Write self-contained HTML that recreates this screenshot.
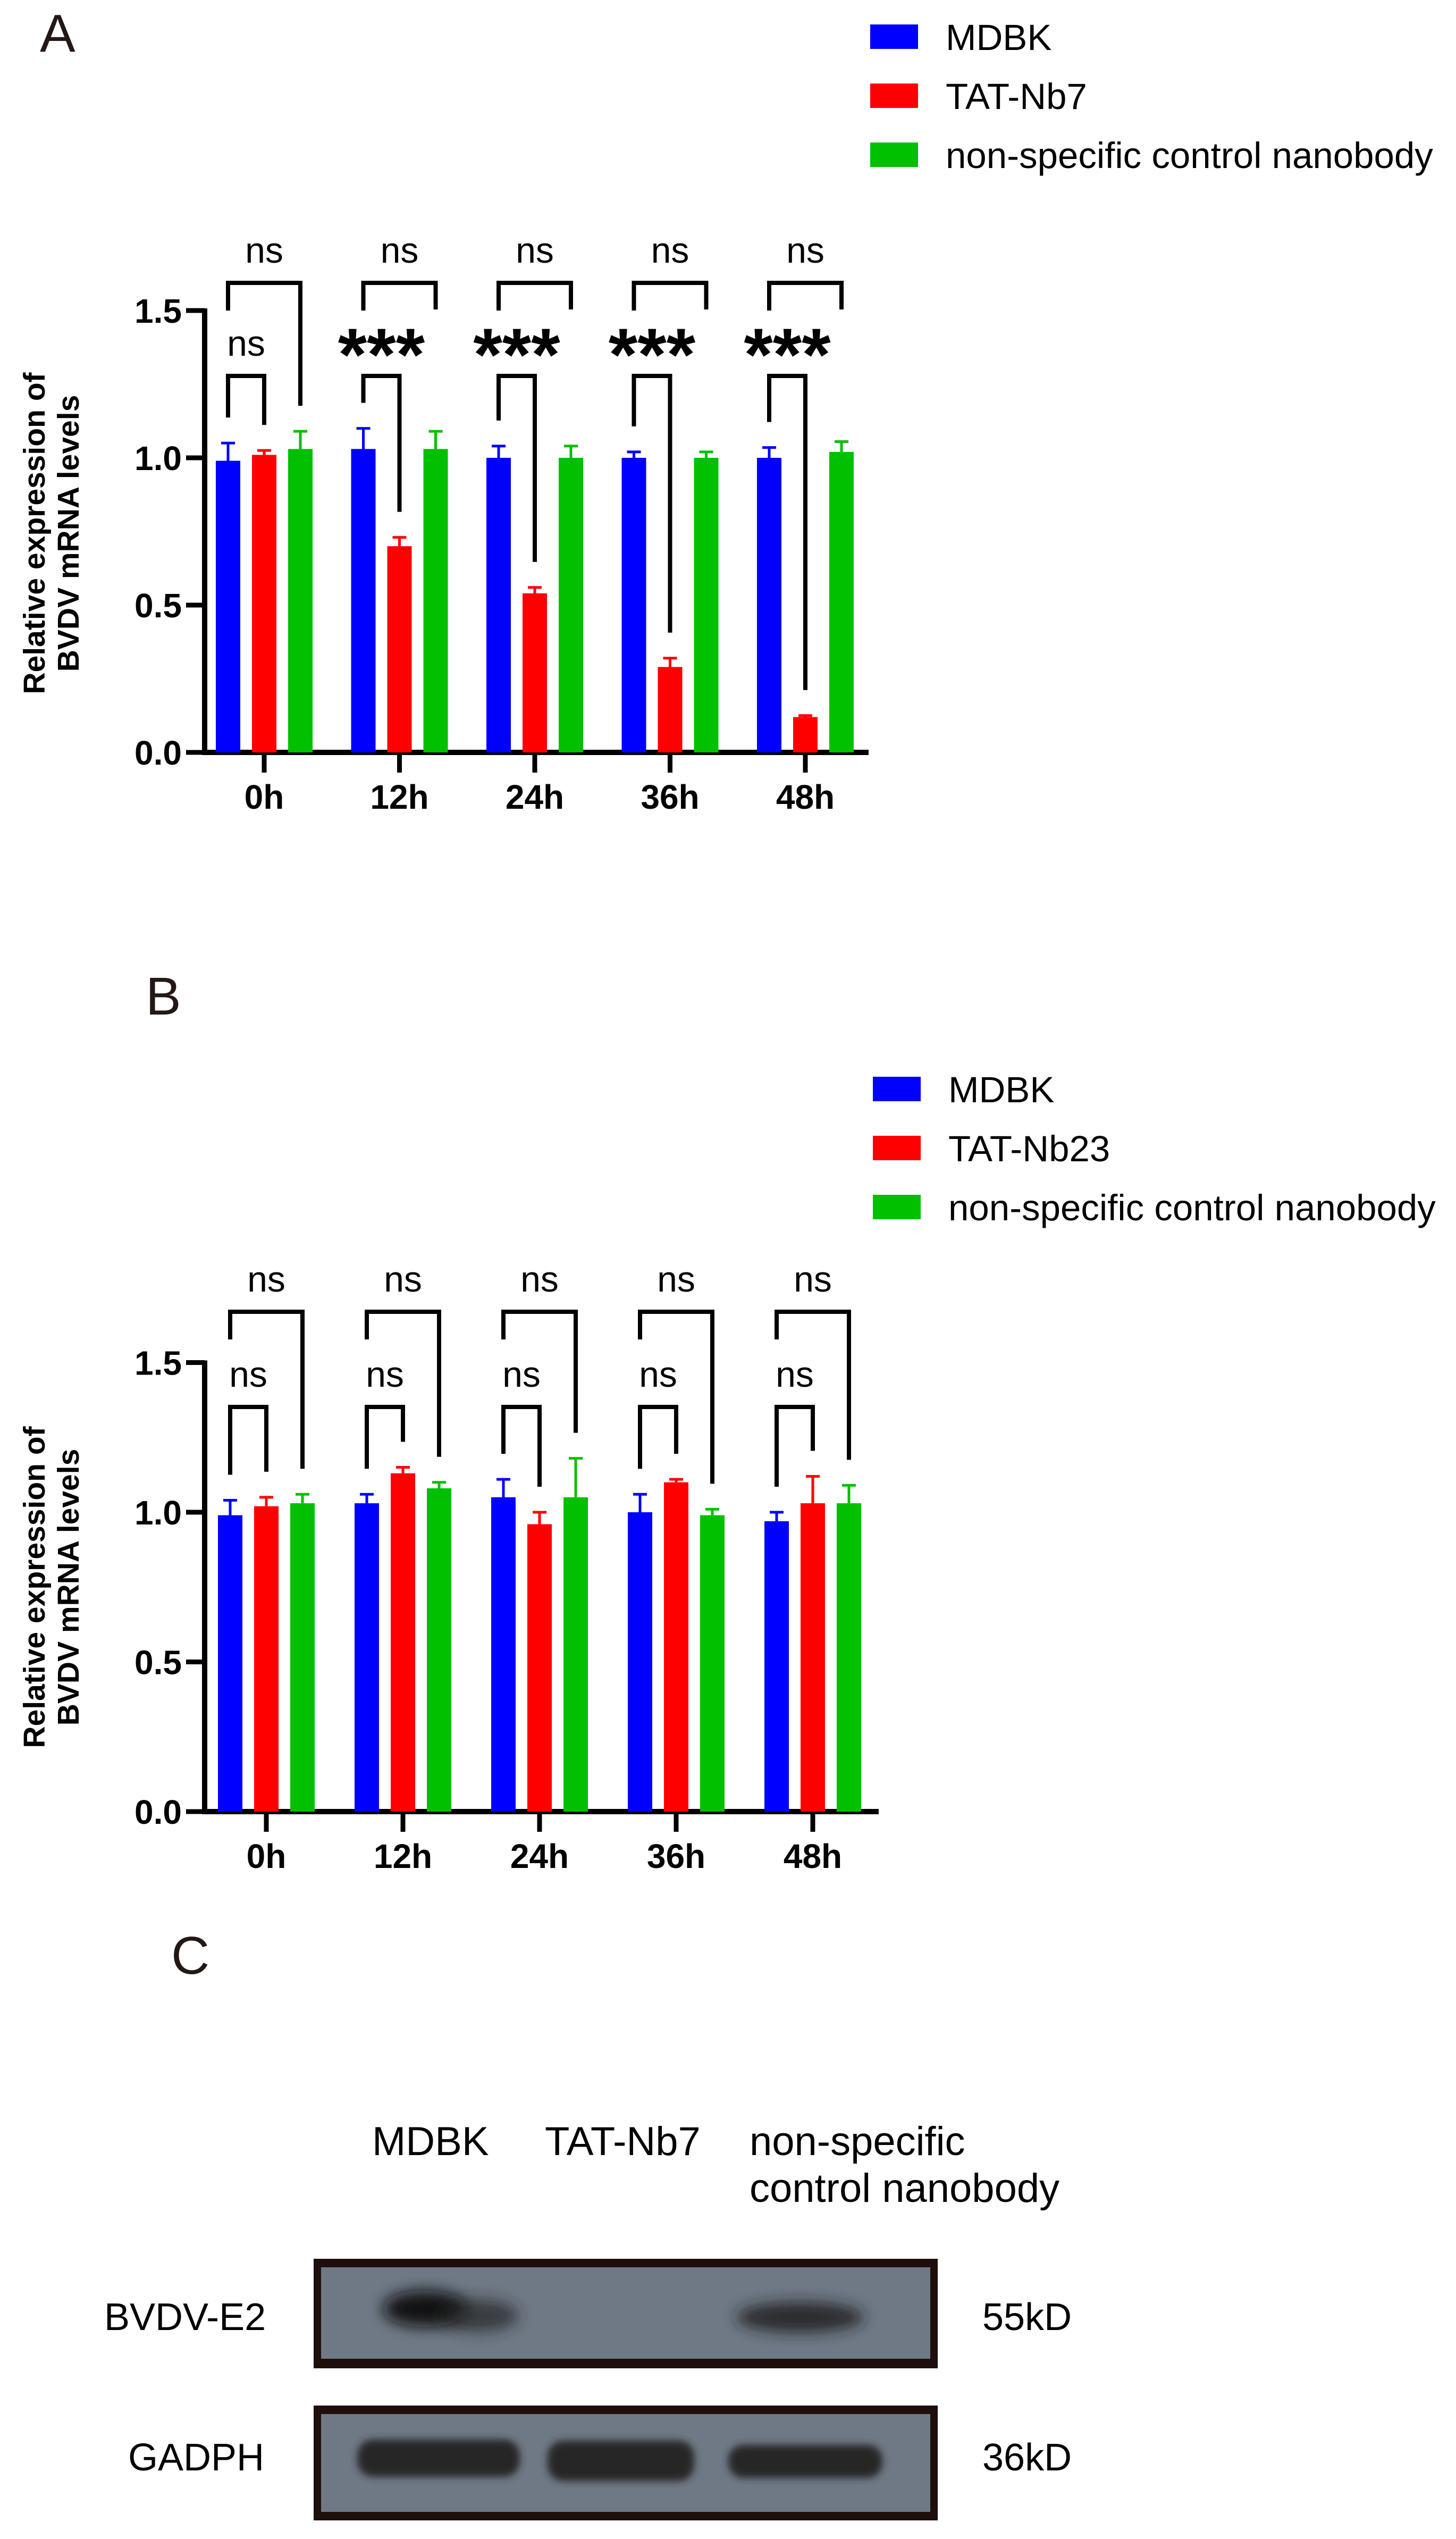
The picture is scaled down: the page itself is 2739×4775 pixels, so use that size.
<!DOCTYPE html>
<html><head><meta charset="utf-8"><style>
html,body{margin:0;padding:0;background:#fff}
svg{display:block}
text{font-family:"Liberation Sans",Arial,sans-serif}
</style></head><body>
<svg id="fig" width="2739" height="4775" viewBox="0 0 2739 4775" xmlns="http://www.w3.org/2000/svg">
<defs>
<filter id="blur1" x="-50%" y="-50%" width="200%" height="200%"><feGaussianBlur stdDeviation="14"/></filter>
<filter id="blur2" x="-50%" y="-50%" width="200%" height="200%"><feGaussianBlur stdDeviation="7"/></filter>
</defs>
<text x="75" y="97" font-size="100" fill="#231815">A</text>
<text x="274" y="1908" font-size="100" fill="#231815">B</text>
<text x="322" y="3712" font-size="100" fill="#231815">C</text>
<g id="chartA"></g>
<g id="chartB"></g>
<g id="panelC">
  <text x="700" y="4053" font-size="76">MDBK</text>
  <text x="1025" y="4053" font-size="76">TAT-Nb7</text>
  <text x="1410" y="4053" font-size="76">non-specific</text>
  <text x="1410" y="4141" font-size="76">control nanobody</text>
  <g>
    <rect x="590" y="4248" width="1174" height="206" fill="#1e0f0c"/>
    <rect x="604" y="4264" width="1146" height="172" fill="#6f7985"/>
    <ellipse cx="800" cy="4342" rx="80" ry="34" fill="#111" filter="url(#blur1)" opacity="0.95"/>
    <ellipse cx="900" cy="4355" rx="75" ry="30" fill="#222" filter="url(#blur1)" opacity="0.7"/>
    <ellipse cx="1505" cy="4358" rx="120" ry="28" fill="#1c1c1c" filter="url(#blur1)" opacity="0.85"/>
  </g>
  <g>
    <rect x="590" y="4524" width="1174" height="216" fill="#1e0f0c"/>
    <rect x="604" y="4540" width="1146" height="184" fill="#6f7985"/>
    <rect x="672" y="4588" width="306" height="70" rx="30" fill="#262626" filter="url(#blur2)"/>
    <rect x="1030" y="4590" width="276" height="76" rx="30" fill="#262626" filter="url(#blur2)"/>
    <rect x="1370" y="4598" width="290" height="62" rx="28" fill="#262626" filter="url(#blur2)"/>
  </g>
  <text x="196" y="4382" font-size="72">BVDV-E2</text>
  <text x="241" y="4646" font-size="72">GADPH</text>
  <text x="1848" y="4382" font-size="72">55kD</text>
  <text x="1848" y="4646" font-size="72">36kD</text>
</g>
</svg>
<script>
const categories = ["0h","12h","24h","36h","48h"];
const yTicks = [0, 0.5, 1.0, 1.5];
const yTickLabels = ["0.0","0.5","1.0","1.5"];
const seriesColors = ["#0000ff","#ff0000","#00c000"];
const legendA = ["MDBK","TAT-Nb7"," non-specific control nanobody"];
const legendB = ["MDBK","TAT-Nb23","non-specific control nanobody"];
const aMDBK = [0.99,1.03,1.00,1.00,1.00];
const aMDBKErr = [0.06,0.07,0.04,0.02,0.035];
const aNb7 = [1.01,0.70,0.54,0.29,0.12];
const aNb7Err = [0.015,0.03,0.02,0.03,0.005];
const aCtrl = [1.03,1.03,1.00,1.00,1.02];
const aCtrlErr = [0.06,0.06,0.04,0.02,0.035];
const aSigUpper = ["ns","ns","ns","ns","ns"];
const aSigLower = ["ns","***","***","***","***"];
const aUpperLong = [true,false,false,false,false];
const bMDBK = [0.99,1.03,1.05,1.00,0.97];
const bMDBKErr = [0.05,0.03,0.06,0.06,0.03];
const bNb23 = [1.02,1.13,0.96,1.10,1.03];
const bNb23Err = [0.03,0.02,0.04,0.01,0.09];
const bCtrl = [1.03,1.08,1.05,0.99,1.03];
const bCtrlErr = [0.03,0.02,0.13,0.02,0.06];
const bSigUpper = ["ns","ns","ns","ns","ns"];
const bSigLower = ["ns","ns","ns","ns","ns"];
const bUpperLong = [true,true,true,true,true];

const NS="http://www.w3.org/2000/svg";
function mk(parent,tag,attrs,txt){const e=document.createElementNS(NS,tag);for(const k in attrs)e.setAttribute(k,attrs[k]);if(txt!==undefined)e.textContent=txt;parent.appendChild(e);return e;}

function drawChart(gid,cfg){
  const g=document.getElementById(gid);
  const y=v=>cfg.y0-cfg.unit*v;
  const x=i=>cfg.x0+cfg.step*i;
  const off=[-68,0,68], bw=46;
  const ya=mk(g,'line',{x1:385,y1:y(1.5)-4,x2:385,y2:y(0)+5,stroke:'#000','stroke-width':10});
  
  
  const xa=mk(g,'line',{x1:380,y1:y(0),x2:cfg.xEnd,y2:y(0),stroke:'#000','stroke-width':10});
  
  
  yTicks.forEach((t,i)=>{
    const tk=mk(g,'line',{x1:350,y1:y(t),x2:385,y2:y(t),stroke:'#000','stroke-width':9});
    
    
    const tl=mk(g,'text',{x:342,y:y(t)+23,'font-size':64,'font-weight':'bold','text-anchor':'end'},yTickLabels[i]);
    
    
  });
  const tt=mk(g,'text',{transform:`translate(0,${cfg.titleY}) rotate(-90)`,'font-size':57,'font-weight':'bold','text-anchor':'middle'});
  
  
  mk(tt,'tspan',{x:0,y:84},'Relative expression of');
  mk(tt,'tspan',{x:0,y:148},'BVDV mRNA levels');
  categories.forEach((c,i)=>{
    const tk=mk(g,'line',{x1:x(i),y1:y(0),x2:x(i),y2:y(0)+38,stroke:'#000','stroke-width':9});
    
    
    const tl=mk(g,'text',{x:x(i),y:y(0)+106,'font-size':64,'font-weight':'bold','text-anchor':'middle'},c);
    
    
  });
  const tops=[];
  cfg.series.forEach((s,si)=>{
    s.v.forEach((v,i)=>{
      const cx=x(i)+off[si];
      const r=mk(g,'rect',{x:cx-bw/2,y:y(v),width:bw,height:y(0)-y(v),fill:seriesColors[si]});
      
      
      const ty=y(v+s.e[i]);
      const el=mk(g,'path',{d:`M${cx} ${y(v)} V${ty} M${cx-13} ${ty} H${cx+13}`,stroke:seriesColors[si],'stroke-width':5,fill:'none'});
      
      
      (tops[si]=tops[si]||[])[i]=ty;
    });
  });
  categories.forEach((c,i)=>{
    const xb=x(i)+off[0], xr=x(i)+off[1], xg=x(i)+off[2];
    const ut=cfg.upperTop, lt=cfg.lowerTop;
    const rg=cfg.long[i]?tops[2][i]-48:ut+50;
    const ub=mk(g,'path',{d:`M${xb} ${ut+52} V${ut} H${xg} V${rg}`,stroke:'#000','stroke-width':8,fill:'none'});
    
    
    const lb=mk(g,'path',{d:`M${xb} ${tops[0][i]-48} V${lt} H${xr} V${tops[1][i]-48}`,stroke:'#000','stroke-width':8,fill:'none'});
    
    
    const su=mk(g,'text',{x:(xb+xg)/2,y:ut-38,'font-size':68,'text-anchor':'middle'},cfg.sigU[i]);
    
    
    const star=cfg.sigL[i]==='***';
    const sl=mk(g,'text',{x:(xb+xr)/2,y:star?lt+8:lt-38,'font-size':star?140:68,'font-weight':star?'bold':'normal','text-anchor':'middle'},cfg.sigL[i]);
    
    
  });
  cfg.legend.forEach((t,i)=>{
    const ly=cfg.legY+cfg.legStep*i;
    const sq=mk(g,'rect',{x:cfg.legX,y:ly-23,width:90,height:46,fill:seriesColors[i]});
    
    
    const lt=mk(g,'text',{x:cfg.legX+142,y:ly+25,'font-size':69,'xml:space':'preserve'},t);
    
    
  });
}
drawChart('chartA',{y0:1415,unit:554,x0:497,step:254.5,xEnd:1634,titleY:1003,upperTop:532,lowerTop:707,
  series:[{v:aMDBK,e:aMDBKErr},{v:aNb7,e:aNb7Err},{v:aCtrl,e:aCtrlErr}],sigU:aSigUpper,sigL:aSigLower,long:aUpperLong,
  legend:legendA,legX:1637,legY:69,legStep:111});
drawChart('chartB',{y0:3407,unit:563,x0:501,step:257,xEnd:1653,titleY:2985,upperTop:2467,lowerTop:2646,
  series:[{v:bMDBK,e:bMDBKErr},{v:bNb23,e:bNb23Err},{v:bCtrl,e:bCtrlErr}],sigU:bSigUpper,sigL:bSigLower,long:bUpperLong,
  legend:legendB,legX:1642,legY:2048,legStep:111});
</script>
</body></html>
